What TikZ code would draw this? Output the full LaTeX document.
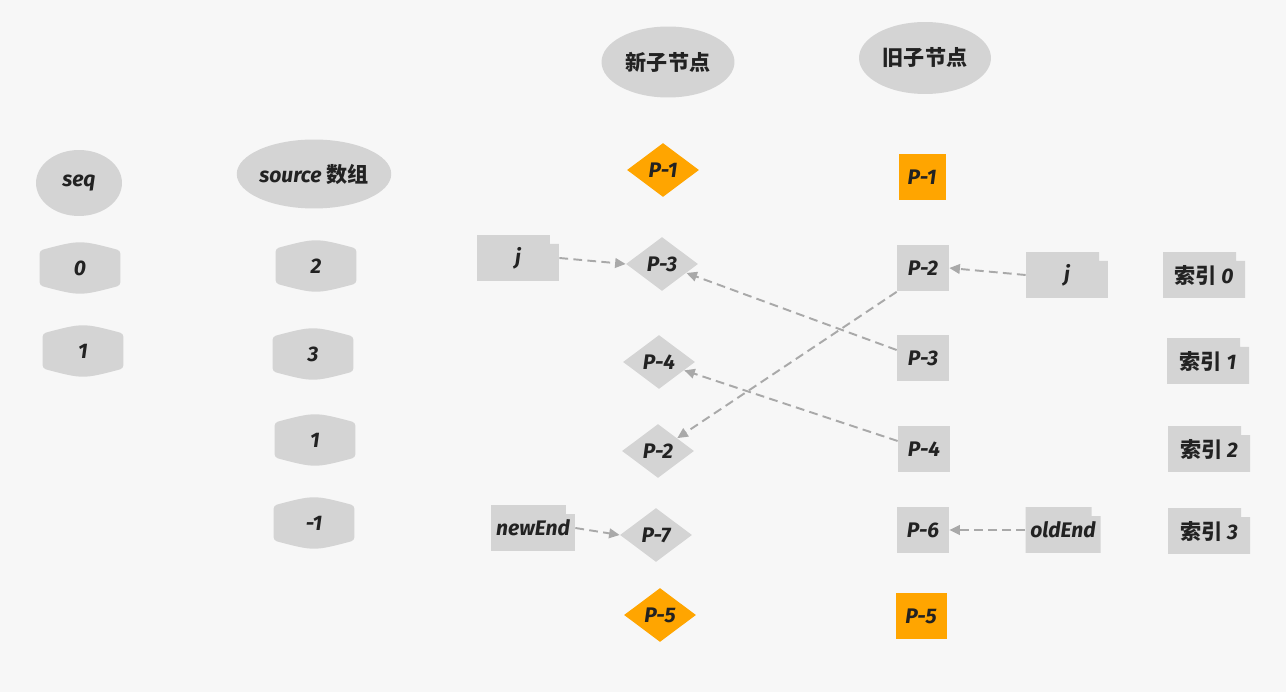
\documentclass[tikz,border=0pt]{standalone}
\usepackage{fontspec}
\setmainfont{Fira Sans}
\newfontfamily\cjk{Noto Sans CJK SC}
\usetikzlibrary{shapes.geometric,arrows.meta}
\definecolor{bgc}{HTML}{F7F7F7}
\definecolor{ng}{HTML}{D4D4D4}
\definecolor{og}{HTML}{FFA500}
\definecolor{lc}{HTML}{A9A9A9}
\definecolor{tc}{HTML}{222222}
\tikzset{
  lbl/.style={text=tc,font=\fontsize{12}{14}\selectfont\itshape\bfseries},
  ell/.style={lbl,ellipse,fill=ng,inner sep=0pt},
  barrel/.style={lbl,rectangle,inner sep=0pt,minimum width=1.62cm,minimum height=1.02cm,
    path picture={\fill[ng,rounded corners=2pt]
      ([yshift=-0.16cm]path picture bounding box.north west)
      .. controls ([yshift=0.053cm]path picture bounding box.north) ..
      ([yshift=-0.16cm]path picture bounding box.north east)
      -- ([yshift=0.16cm]path picture bounding box.south east)
      .. controls ([yshift=-0.053cm]path picture bounding box.south) ..
      ([yshift=0.16cm]path picture bounding box.south west) -- cycle;}},
  tab/.style={lbl,rectangle,inner sep=0pt,minimum width=1.64cm,minimum height=0.92cm,
    path picture={\fill[ng]
      (path picture bounding box.south west)
      -- (path picture bounding box.north west)
      -- ([xshift=-0.18cm]path picture bounding box.north east)
      -- ([xshift=-0.18cm,yshift=-0.18cm]path picture bounding box.north east)
      -- ([yshift=-0.18cm]path picture bounding box.north east)
      -- (path picture bounding box.south east) -- cycle;}},
  sq/.style={lbl,rectangle,fill=ng,inner sep=0pt,minimum width=1.04cm,minimum height=0.94cm},
  osq/.style={sq,fill=og},
  dia/.style={lbl,diamond,fill=ng,inner sep=0pt,minimum width=1.44cm,minimum height=1.08cm},
  odia/.style={dia,fill=og},
  conn/.style={draw=lc,line width=1.1pt,dash pattern=on 5pt off 3pt,
    -{Triangle[length=6pt,width=5.5pt]}},
}
\begin{document}
\begin{tikzpicture}[x=0.02cm,y=-0.02cm]
\fill[bgc] (0,0) rectangle (1286,692);
\useasboundingbox (0,0) rectangle (1286,692);
% headers
\node[ell,minimum width=1.72cm,minimum height=1.32cm] (seq) at (79,183) {seq};
\node[ell,minimum width=3.04cm,minimum height=1.38cm] (src) at (314,174) {source {\cjk\upshape 数组}};
\node[ell,minimum width=2.66cm,minimum height=1.42cm] (newh) at (668,62) {\cjk\upshape 新子节点};
\node[ell,minimum width=2.64cm,minimum height=1.44cm] (oldh) at (925,58) {\cjk\upshape 旧子节点};
% seq column
\node[barrel] (s0) at (80,268) {0};
\node[barrel] (s1) at (83,351) {1};
% source column
\node[barrel] (a0) at (316,266) {2};
\node[barrel] (a1) at (313,354) {3};
\node[barrel] (a2) at (315,440) {1};
\node[barrel] (a3) at (314,523) {-1};
% new children
\node[odia] (n1) at (663,170) {P-1};
\node[dia] (n3) at (662,264) {P-3};
\node[dia] (n4) at (659,362) {P-4};
\node[dia] (n2) at (658,451) {P-2};
\node[dia] (n7) at (656,535) {P-7};
\node[odia] (n5) at (660,615) {P-5};
% old children
\node[osq,minimum width=0.94cm,minimum height=0.92cm] (o1) at (922,177) {P-1};
\node[sq] (o2) at (923,268) {P-2};
\node[sq] (o3) at (923,358) {P-3};
\node[sq] (o4) at (924,449) {P-4};
\node[sq] (o6) at (923,530) {P-6};
\node[osq,minimum width=1.02cm] (o5) at (921,616) {P-5};
% pointers
\node[tab] (jl) at (518,258) {j};
\node[tab,minimum width=1.68cm] (ne) at (533,528) {newEnd};
\node[tab] (jr) at (1067,275) {j};
\node[tab,minimum width=1.5cm] (oe) at (1063,530) {oldEnd};
% index labels
\node[tab] (i0) at (1204,275) {{\cjk\upshape 索引} 0};
\node[tab] (i1) at (1208,361) {{\cjk\upshape 索引} 1};
\node[tab] (i2) at (1209,449) {{\cjk\upshape 索引} 2};
\node[tab] (i3) at (1209,531) {{\cjk\upshape 索引} 3};
% connectors
\draw[conn] (jl.east) -- (n3.west);
\draw[conn] ([yshift=0.16cm]o3.west) -- (n3);
\draw[conn] ([yshift=0.16cm]o4.west) -- (n4);
\draw[conn] (o2.south west) -- (n2);
\draw[conn] (jr.west) -- (o2.east);
\draw[conn] (ne.east) -- (n7.west);
\draw[conn] (oe.west) -- (o6.east);
\end{tikzpicture}
\end{document}
